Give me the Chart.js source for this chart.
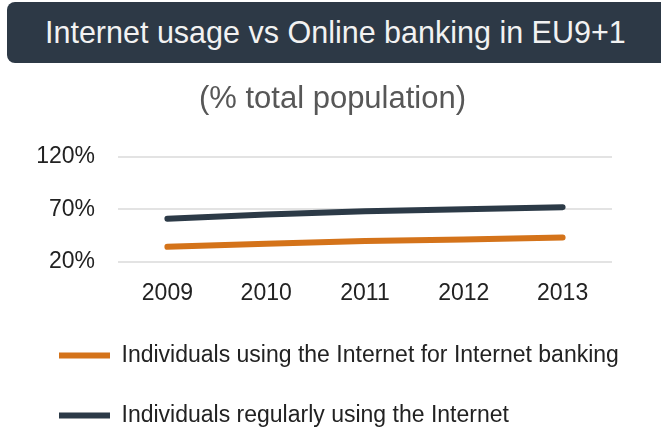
<!DOCTYPE html>
<html>
<head>
<meta charset="utf-8">
<script src="https://cdn.jsdelivr.net/npm/chart.js@4/dist/chart.umd.min.js"></script>
<style>
  html, body { margin: 0; padding: 0; background: #fff; overflow: hidden; }
  #wrap { position: relative; width: 661px; height: 428px; overflow: hidden; }
  #banner {
    position: absolute; left: 7px; top: 2px; width: 680px; height: 61px;
    background: #2d3946; border-radius: 8px;
    color: #f2f2f2; font: 30.5px "Liberation Sans", Arial, sans-serif;
    line-height: 61px; box-sizing: border-box; padding-left: 38px;
  }
  #subtitle {
    position: absolute; left: 0; width: 665px; top: 80px; height: 40px;
    text-align: center; line-height: 40px;
    color: #575757; font: 31px "Liberation Sans", Arial, sans-serif;
  }
  #chartBox { position: absolute; left: 0; top: 0; width: 661px; height: 437px; }
</style>
</head>
<body>
<div id="wrap">
  <div id="chartBox"><canvas id="chart"></canvas></div>
  <div id="banner">Internet usage vs Online banking in EU9+1</div>
  <div id="subtitle">(% total population)</div>
</div>
<script>
// Daten
const years = ["2009", "2010", "2011", "2012", "2013"];
const bankingValues = [34, 37, 39.5, 41, 43];
const internetValues = [61, 65, 68, 70, 72];
const yTicks = [20, 70, 120];

const font = "'Liberation Sans', Arial, sans-serif";

new Chart(document.getElementById("chart"), {
    type: "line",
    data: {
        labels: years,
        datasets: [
            {
                label: "Individuals using the Internet for Internet banking",
                data: bankingValues,
                borderColor: "#d4731a",
                backgroundColor: "#d4731a",
                borderWidth: 6,
                borderCapStyle: "round",
                pointRadius: 0,
                pointStyle: "line",
                tension: 0
            },
            {
                label: "Individuals regularly using the Internet",
                data: internetValues,
                borderColor: "#2c3a47",
                backgroundColor: "#2c3a47",
                borderWidth: 6,
                borderCapStyle: "round",
                pointRadius: 0,
                pointStyle: "line",
                tension: 0
            }
        ]
    },
    options: {
        responsive: true,
        maintainAspectRatio: false,
        animation: false,
        layout: { padding: { top: 157, left: 22, right: 30, bottom: 0 } },
        plugins: {
            legend: {
                position: "bottom",
                align: "start",
                labels: {
                    usePointStyle: true,
                    pointStyleWidth: 51,
                    padding: 37,
                    color: "#222",
                    font: { family: font, size: 23 }
                }
            },
            tooltip: { enabled: false }
        },
        scales: {
            x: {
                offset: true,
                grid: { display: false, drawTicks: false },
                border: { display: false },
                ticks: { color: "#222", padding: 18, font: { family: font, size: 23 } },
                afterFit: s => { s.height = 45.5; }
            },
            y: {
                min: 20,
                max: 120,
                afterBuildTicks: s => { s.ticks = yTicks.map(v => ({ value: v })); },
                grid: { color: "#e3e3e3", lineWidth: 2, drawTicks: false },
                border: { display: false },
                ticks: {
                    color: "#222",
                    padding: 23,
                    font: { family: font, size: 23 },
                    callback: v => v + "%"
                },
                afterFit: s => { s.width = 96; }
            },
            // leere rechte Achse, damit die Legende breiter sein kann als die Zeichenfläche
            yRight: {
                position: "right",
                min: 20,
                max: 120,
                grid: { display: false, drawTicks: false },
                border: { display: false },
                ticks: { display: false },
                afterFit: s => { s.width = 19; }
            }
        }
    }
});
</script>
</body>
</html>
